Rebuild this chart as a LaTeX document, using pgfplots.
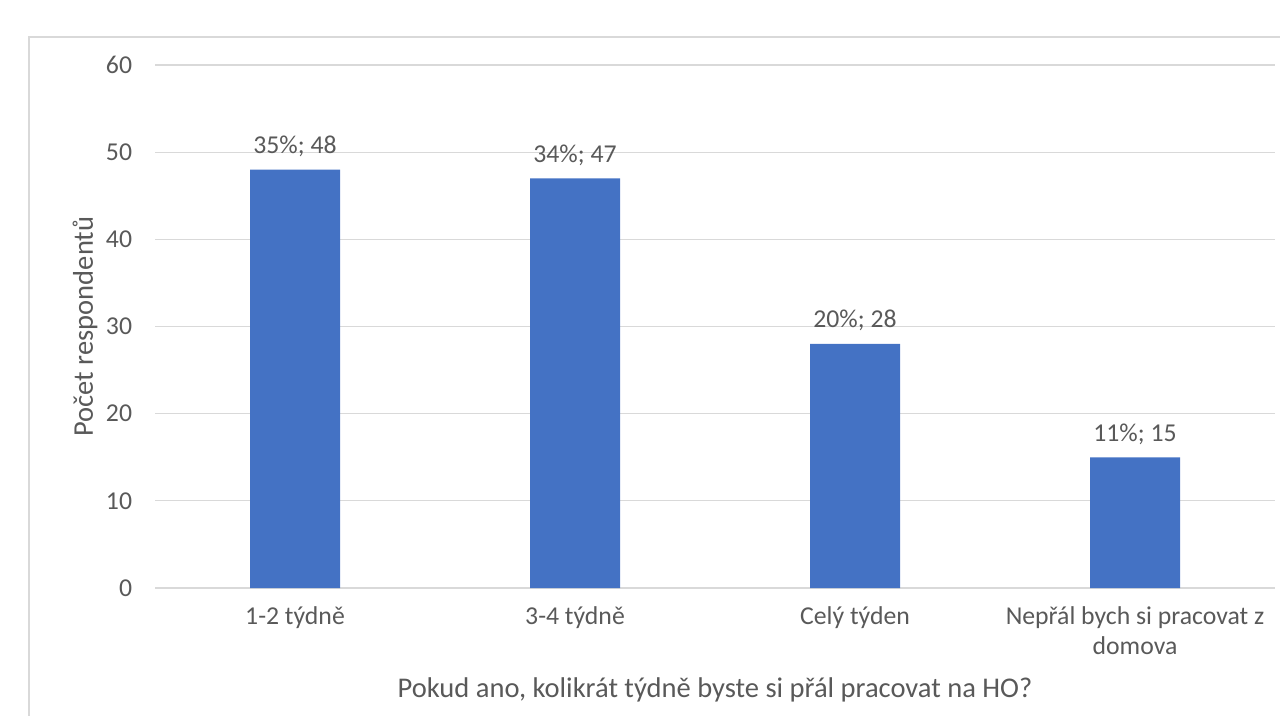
\documentclass[border=0pt]{standalone}
\usepackage{fontspec}
\setmainfont{Carlito}
\usepackage{pgfplots}
\pgfplotsset{compat=1.18}
\definecolor{barblue}{HTML}{4472C4}
\definecolor{txt}{HTML}{595959}
\definecolor{gridc}{HTML}{D9D9D9}
\newcommand\f{\fontsize{19.3}{22.5}\selectfont}
\newcommand\ft{\fontsize{21.4}{25}\selectfont}
\begin{document}
\begin{tikzpicture}
\useasboundingbox (0,0) rectangle (960pt,536.25pt);
\clip (0,0) rectangle (960pt,536.25pt);
\draw[gridc, line width=1.3pt] (21.75pt,-10pt) -- (21.75pt,508.5pt) -- (1000pt,508.5pt);
\begin{axis}[
  at={(116.25pt,95.25pt)}, anchor=south west,
  scale only axis, width=840pt, height=392.25pt,
  xmin=-0.5, xmax=3.5, ymin=0, ymax=60,
  ytick={0,10,...,60},
  xtick={0,1,2,3},
  xticklabels={1-2 týdně,3-4 týdně,Celý týden,{Nepřál bych si pracovat z\\domova}},
  axis line style={draw=none},
  major tick length=0pt,
  ymajorgrids, grid style={gridc, line width=0.9pt},
  /pgf/number format/assume math mode=true,
  ticklabel style={font=\f, text=txt},
  yticklabel style={inner sep=0pt, anchor=east, xshift=-17pt},
  xticklabel style={inner sep=0pt, anchor=north, yshift=-14pt, align=center},
  xlabel={Pokud ano, kolikrát týdně byste si přál pracovat na HO?},
  ylabel={Počet respondentů},
  label style={font=\ft, text=txt, inner sep=0pt},
  xlabel style={at={(axis description cs:0.5,0)}, anchor=base, yshift=-81.75pt},
  ylabel style={at={(axis description cs:0,0.5)}, anchor=center, yshift=52.5pt},
]
\addplot[ybar, bar width=67.5pt, fill=barblue, draw=none,
  point meta=y,
  visualization depends on={value \thisrow{pct} \as \pct},
  nodes near coords={\pct\%; \pgfmathprintnumber[assume math mode=true]{\pgfplotspointmeta}},
  nodes near coords style={font=\f, text=txt, anchor=base, inner sep=0pt, yshift=12pt}]
  table[x=x, y=y] {
x y pct
0 48 35
1 47 34
2 28 20
3 15 11
};
\end{axis}
\end{tikzpicture}
\end{document}
